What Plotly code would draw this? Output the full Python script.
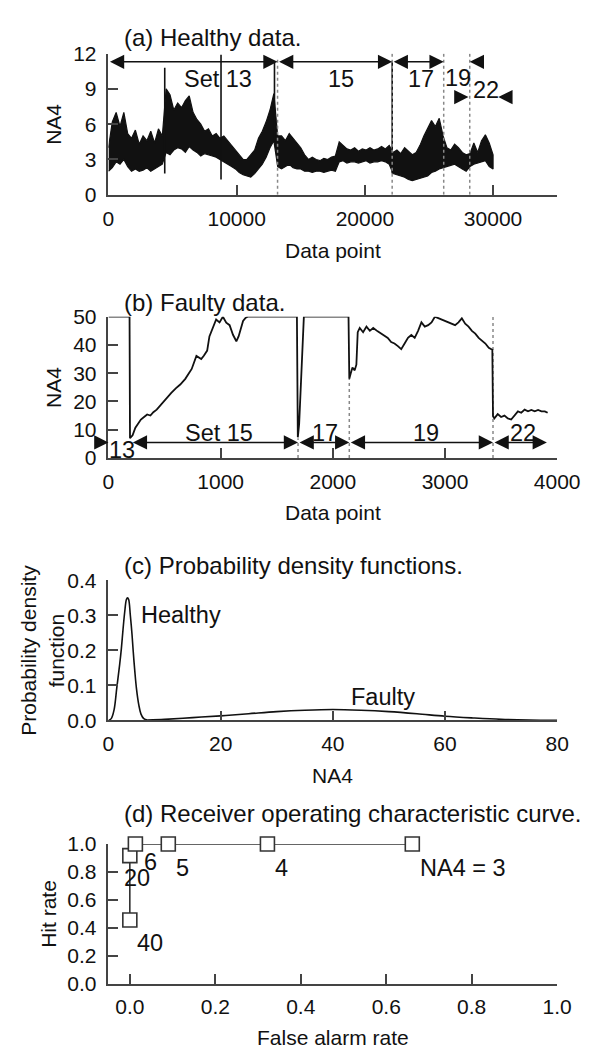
import plotly.graph_objects as go

W, H = 595, 1055
FONT = "Liberation Sans, Arial, sans-serif"
AX = "#444444"
INK = "#111111"

# ---------------- (a) Healthy data (min / max envelope per 300 data points) -------------
healthy_x = [0, 300, 600, 900, 1200, 1500, 1800, 2100, 2400, 2700, 3000, 3300, 3600, 3900, 4200,
             4500, 4800, 5100, 5400, 5700, 6000, 6300, 6600, 6900, 7200, 7500, 7800, 8100, 8400,
             8700, 9000, 9300, 9600, 9900, 10200, 10500, 10800, 11100, 11400, 11700, 12000, 12300,
             12600, 12900, 13200, 13500, 13800, 14100, 14400, 14700, 15000, 15300, 15600, 15900,
             16200, 16500, 16800, 17100, 17400, 17700, 18000, 18300, 18600, 18900, 19200, 19500,
             19800, 20100, 20400, 20700, 21000, 21300, 21600, 21900, 22200, 22500, 22800, 23100,
             23400, 23700, 24000, 24300, 24600, 24900, 25200, 25500, 25800, 26100, 26400, 26700,
             27000, 27300, 27600, 27900, 28200, 28500, 28800, 29100, 29400, 29700, 30000]
healthy_hi = [4.0, 6.2, 7.0, 5.8, 7.0, 5.2, 4.8, 5.5, 4.3, 5.0, 4.6, 5.4, 4.4, 5.6, 5.0,
              9.0, 8.5, 7.2, 7.8, 7.4, 8.0, 8.4, 7.0, 6.4, 6.0, 5.4, 5.6, 5.0, 5.2,
              4.8, 5.0, 4.6, 4.2, 3.8, 3.4, 3.0, 3.0, 3.4, 3.8, 4.8, 5.4, 6.2,
              7.2, 8.6, 5.0, 5.0, 4.6, 5.2, 4.8, 4.4, 4.0, 3.4, 3.0, 3.2,
              3.0, 2.9, 3.1, 3.0, 3.2, 3.3, 4.5, 4.2, 3.9, 3.8, 4.0, 3.7,
              3.9, 3.8, 4.0, 3.8, 3.9, 4.1, 3.9, 4.2, 3.6, 3.8, 3.5, 4.0,
              3.7, 3.4, 3.6, 4.2, 5.0, 5.6, 6.3, 5.8, 6.5, 5.0, 4.0, 3.8,
              4.3, 4.0, 3.6, 3.4, 3.5, 4.4, 3.6, 4.6, 5.1, 4.4, 3.4]
healthy_lo = [2.0, 2.3, 2.8, 2.6, 3.0, 2.4, 2.0, 2.2, 2.0, 2.1, 2.3, 2.0, 2.2, 2.4, 2.6,
              3.6, 3.4, 3.8, 4.0, 3.9, 3.6, 4.1, 3.8, 3.6, 3.3, 3.5, 3.4, 3.3, 3.2,
              3.0, 2.8, 2.6, 2.4, 2.2, 1.9, 1.7, 1.6, 1.5, 1.8, 2.2, 2.6, 3.2,
              4.0, 4.6, 2.4, 2.2, 2.4, 2.6, 2.3, 2.2, 2.2, 2.0, 2.0, 1.9,
              2.0, 2.0, 1.9, 2.0, 2.1, 2.0, 2.8, 2.9, 2.7, 2.8, 2.8, 2.7,
              2.8, 2.9, 2.7, 2.8, 2.8, 2.9, 2.8, 2.6, 1.8, 1.7, 1.6, 1.5,
              1.3, 1.2, 1.3, 1.4, 1.5, 1.6, 1.9, 2.0, 2.2, 2.3, 2.4, 2.5,
              2.6, 2.4, 2.2, 2.0, 2.4, 2.6, 2.7, 2.8, 2.9, 2.4, 2.2]
spike_x = [4390, 8780, 12950, 22130]
spike_lo = [1.8, 1.3, 4.5, 1.8]
spike_hi = [10.8, 11.9, 11.2, 11.3]
a_bound_x = [13190, 22130, 26150, 28180]
a_bound_top = [11.6, 12.0, 12.0, 12.0]

# ---------------- (b) Faulty data ----------------
faulty_x = [0, 188, 192, 198, 215, 240, 265, 289, 320, 345, 374, 400, 430, 470, 515, 560, 600, 640,
            685, 715, 742, 784, 827, 850, 880, 900, 930, 960, 990, 1020, 1050, 1080, 1110, 1140,
            1160, 1180, 1200, 1220, 1240, 1680, 1688, 1700, 1712, 1724, 1742, 2140, 2147, 2160,
            2175, 2195, 2210, 2222, 2240, 2270, 2300, 2330, 2360, 2400, 2430, 2460, 2490, 2520,
            2550, 2580, 2610, 2640, 2670, 2700, 2730, 2760, 2790, 2820, 2850, 2880, 2910, 2940,
            2970, 3000, 3030, 3060, 3090, 3120, 3150, 3180, 3210, 3240, 3270, 3300, 3330, 3360,
            3390, 3422, 3428, 3440, 3470, 3500, 3530, 3560, 3590, 3620, 3650, 3680, 3710, 3740,
            3770, 3800, 3830, 3860, 3890, 3915]
faulty_y = [50, 50, 7.0, 7.3, 8.0, 10.7, 12.0, 13.6, 14.6, 15.4, 15.0, 16.2, 17.1, 19.0, 21.1, 23.0,
            24.6, 26.0, 28.0, 30.0, 31.5, 36.1, 35.0, 36.2, 38.0, 43.0, 46.0, 49.0, 48.0, 50.0,
            47.9, 47.0, 43.6, 41.3, 43.0, 46.0, 48.5, 49.5, 50.0, 50.0, 7.3, 12.0, 22.3, 30.0,
            50.0, 50.0, 28.0, 30.0, 32.0, 31.0, 33.0, 44.5, 46.0, 44.5, 46.5, 45.0, 46.0, 44.8,
            44.0, 43.0, 42.5, 41.0, 40.5, 39.6, 38.5, 40.5, 42.5, 43.5, 42.5, 45.0, 48.0, 46.5,
            47.0, 48.0, 50.0, 49.5, 49.0, 48.5, 48.0, 47.5, 47.0, 48.0, 49.4, 47.5, 46.5, 45.0,
            44.0, 42.5, 41.5, 40.5, 39.0, 38.3, 14.8, 14.0, 15.5, 14.5, 15.0, 14.0, 13.6, 15.0,
            16.5, 16.0, 17.1, 16.5, 17.0, 16.5, 17.0, 16.5, 16.5, 16.0]
b_bound_x = [1690, 2147, 3428]
b_bound_top = [7.0, 28.0, 50.0]

# ---------------- (c) Probability density functions ----------------
pdf_healthy_x = [0, 0.5, 1.0, 1.5, 2.0, 2.3, 2.6, 2.9, 3.2, 3.4, 3.6, 3.9, 4.2, 4.4, 4.7, 5.0, 5.4, 5.8, 6.3, 7.0]
pdf_healthy_y = [0.0, 0.005, 0.03, 0.095, 0.16, 0.205, 0.26, 0.31, 0.345, 0.35, 0.345, 0.30, 0.245,
                 0.20, 0.14, 0.09, 0.045, 0.018, 0.005, 0.001]
pdf_faulty_x = [7, 10, 15, 20, 25, 30, 35, 40, 45, 50, 55, 60, 65, 70, 75, 80]
pdf_faulty_y = [0.001, 0.003, 0.008, 0.013, 0.019, 0.025, 0.029, 0.031, 0.029, 0.025, 0.019, 0.012,
                0.007, 0.003, 0.001, 0.0]

# ---------------- (d) ROC curve ----------------
roc_far = [0.0, 0.0, 0.013, 0.090, 0.322, 0.661]
roc_hit = [0.455, 0.916, 1.0, 1.0, 1.0, 1.0]
roc_labels = ["40", "20", "6", "5", "4", "NA4 = 3"]
roc_label_x = [0.048, 0.016, 0.048, 0.124, 0.356, 0.78]
roc_label_y = [0.293, 0.755, 0.87, 0.825, 0.827, 0.827]

# tick labels
a_xticks = [0, 10000, 20000, 30000]
a_yticks = [0, 3, 6, 9, 12]
b_xticks = [0, 1000, 2000, 3000, 4000]
b_yticks = [0, 10, 20, 30, 40, 50]
c_xticks = [0, 20, 40, 60, 80]
c_yticks = [0.0, 0.1, 0.2, 0.3, 0.4]
d_xticks = [0.0, 0.2, 0.4, 0.6, 0.8, 1.0]
d_yticks = [0.0, 0.2, 0.4, 0.6, 0.8, 1.0]

fig = go.Figure()

# (a) envelope polygon
poly_x = healthy_x + healthy_x[::-1]
poly_y = healthy_hi + healthy_lo[::-1]
fig.add_trace(go.Scatter(x=poly_x, y=poly_y, fill="toself", fillcolor=INK, mode="lines",
                         line=dict(color=INK, width=1.2), xaxis="x", yaxis="y", hoverinfo="skip"))
sx, sy = [], []
for x0, lo, hi in zip(spike_x, spike_lo, spike_hi):
    sx += [x0, x0, None]
    sy += [lo, hi, None]
fig.add_trace(go.Scatter(x=sx, y=sy, mode="lines", line=dict(color=INK, width=1.6),
                         xaxis="x", yaxis="y", hoverinfo="skip"))
bx, by = [], []
for x0, top in zip(a_bound_x, a_bound_top):
    bx += [x0, x0, None]
    by += [0, top, None]
fig.add_trace(go.Scatter(x=bx, y=by, mode="lines", line=dict(color="#888888", width=1.5, dash="dot"),
                         xaxis="x", yaxis="y", hoverinfo="skip"))

# (b)
bx, by = [], []
for x0, top in zip(b_bound_x, b_bound_top):
    bx += [x0, x0, None]
    by += [0, top, None]
fig.add_trace(go.Scatter(x=bx, y=by, mode="lines", line=dict(color="#888888", width=1.5, dash="dot"),
                         xaxis="x2", yaxis="y2", hoverinfo="skip"))
fig.add_trace(go.Scatter(x=faulty_x, y=faulty_y, mode="lines", line=dict(color=INK, width=1.8),
                         xaxis="x2", yaxis="y2", hoverinfo="skip", cliponaxis=False))

# (c)
fig.add_trace(go.Scatter(x=pdf_healthy_x, y=pdf_healthy_y, mode="lines", line=dict(color=INK, width=1.6, shape="spline"),
                         xaxis="x3", yaxis="y3", hoverinfo="skip"))
fig.add_trace(go.Scatter(x=pdf_faulty_x, y=pdf_faulty_y, mode="lines", line=dict(color=INK, width=1.6, shape="spline"),
                         xaxis="x3", yaxis="y3", hoverinfo="skip"))

# (d)
fig.add_trace(go.Scatter(x=roc_far, y=roc_hit, mode="lines+markers", cliponaxis=False,
                         line=dict(color="#333333", width=1.6),
                         marker=dict(symbol="square", size=14, color="white", line=dict(color="#333333", width=1.6)),
                         xaxis="x4", yaxis="y4", hoverinfo="skip"))

xdom = [99.3 / W, 571.0 / W]


def ydom(top_px, bot_px):
    return [1 - bot_px / H, 1 - top_px / H]


def axis(dom, rng, tv, tt, anchor, standoff):
    return dict(domain=dom, range=rng, tickvals=tv, ticktext=tt, anchor=anchor,
                showline=True, linecolor=AX, linewidth=1.5, ticks="inside", ticklen=10,
                tickwidth=1.5, tickcolor=AX, showgrid=False, zeroline=False,
                tickfont=dict(family=FONT, size=21, color=INK), ticklabelstandoff=standoff,
                fixedrange=True)


lay = dict(width=W, height=H, margin=dict(l=0, r=0, t=0, b=0), autosize=False,
           paper_bgcolor="white", plot_bgcolor="white", showlegend=False,
           font=dict(family=FONT, color=INK))
lay["xaxis"] = axis(xdom, [0, 35000], a_xticks, [str(v) for v in a_xticks], "y", 4)
lay["yaxis"] = axis(ydom(34.3, 178.7), [0, 12], a_yticks, [str(v) for v in a_yticks], "x", 6)
lay["xaxis2"] = axis(xdom, [0, 4000], b_xticks, [str(v) for v in b_xticks], "y2", 4)
lay["yaxis2"] = axis(ydom(303.3, 447.7), [0, 50], b_yticks, [str(v) for v in b_yticks], "x2", 6)
lay["xaxis3"] = axis(xdom, [0, 80], c_xticks, [str(v) for v in c_xticks], "y3", 4)
lay["yaxis3"] = axis(ydom(572.7, 716.0), [0, 0.4], c_yticks, ["%.1f" % v for v in c_yticks], "x3", 6)
lay["xaxis4"] = axis(xdom, [-0.05, 1.0], d_xticks, ["%.1f" % v for v in d_xticks], "y4", 4)
lay["yaxis4"] = axis(ydom(842.3, 985.0), [0, 1.0], d_yticks, ["%.1f" % v for v in d_yticks], "x4", 6)

ann = []


def text(t, x, y, xr, yr, xa="center", size=23.5, angle=0):
    ann.append(dict(text=t, x=x, y=y, xref=xr, yref=yr, showarrow=False, xanchor=xa, yanchor="middle",
                    font=dict(family=FONT, size=size, color=INK), textangle=angle))


def arrow(x0, x1, y, xr, yr, both=True):
    ann.append(dict(text="", x=x1, y=y, ax=x0, ay=y, xref=xr, yref=yr, axref=xr, ayref=yr,
                    showarrow=True, arrowhead=2, startarrowhead=2, arrowsize=1.9, startarrowsize=1.9,
                    arrowwidth=1.5, arrowcolor=INK, arrowside="end+start" if both else "end",
                    standoff=0, startstandoff=0))


# panel titles
for t, ypx in [("(a) Healthy data.", 18.3), ("(b) Faulty data.", 289.0),
               ("(c) Probability density functions.", 558.0),
               ("(d) Receiver operating characteristic curve.", 811.0)]:
    text(t, 113.3 / W, 1 - ypx / H, "paper", "paper", xa="left", size=24)

# axis titles
xc = (xdom[0] + xdom[1]) / 2
text("Data point", xc, 1 - 236.0 / H, "paper", "paper", size=21)
text("Data point", xc, 1 - 503.0 / H, "paper", "paper", size=21)
text("NA4", xc, 1 - 772.0 / H, "paper", "paper", size=21)
text("False alarm rate", xc, 1 - 1040.0 / H, "paper", "paper", size=21)
text("NA4", 41.7 / W, 1 - 106.5 / H, "paper", "paper", size=21, angle=-90)
text("NA4", 41.7 / W, 1 - 375.5 / H, "paper", "paper", size=21, angle=-90)
text("Probability density<br>function", 30.0 / W, 1 - 644.3 / H, "paper", "paper", size=21, angle=-90)
text("Hit rate", 36.0 / W, 1 - 913.5 / H, "paper", "paper", size=21, angle=-90)

# (a) set arrows and labels
arrow(0, 13190, 11.3, "x", "y")
arrow(13190, 22130, 11.3, "x", "y")
arrow(22130, 26150, 11.3, "x", "y")
arrow(29080, 28180, 11.3, "x", "y", both=False)
arrow(27180, 28080, 8.3, "x", "y", both=False)
arrow(31310, 30410, 8.3, "x", "y", both=False)
for t, x, y in [("Set 13", 8560, 9.87), ("15", 18100, 9.87), ("17", 24360, 9.87),
                ("19", 27290, 9.9), ("22", 29440, 8.9)]:
    text(t, x, y, "x", "y")

# (b) set arrows and labels
arrow(-102, 0, 5.5, "x2", "y2", both=False)
arrow(204, 1690, 5.5, "x2", "y2")
arrow(1690, 2147, 5.5, "x2", "y2")
arrow(2147, 3428, 5.5, "x2", "y2")
arrow(3428, 3908, 5.5, "x2", "y2")
for t, x, y in [("13", 117, 2.9), ("Set 15", 984, 9.0), ("17", 1930, 9.0), ("19", 2830, 9.0),
                ("22", 3696, 9.0)]:
    text(t, x, y, "x2", "y2")

# (c) labels
text("Healthy", 5.5, 0.30, "x3", "y3", xa="left")
text("Faulty", 48.9, 0.068, "x3", "y3")

# (d) labels
for t, x, y in zip(roc_labels, roc_label_x, roc_label_y):
    text(t, x, y, "x4", "y4")

lay["annotations"] = ann
fig.update_layout(**lay)
fig.write_html("out.html")
